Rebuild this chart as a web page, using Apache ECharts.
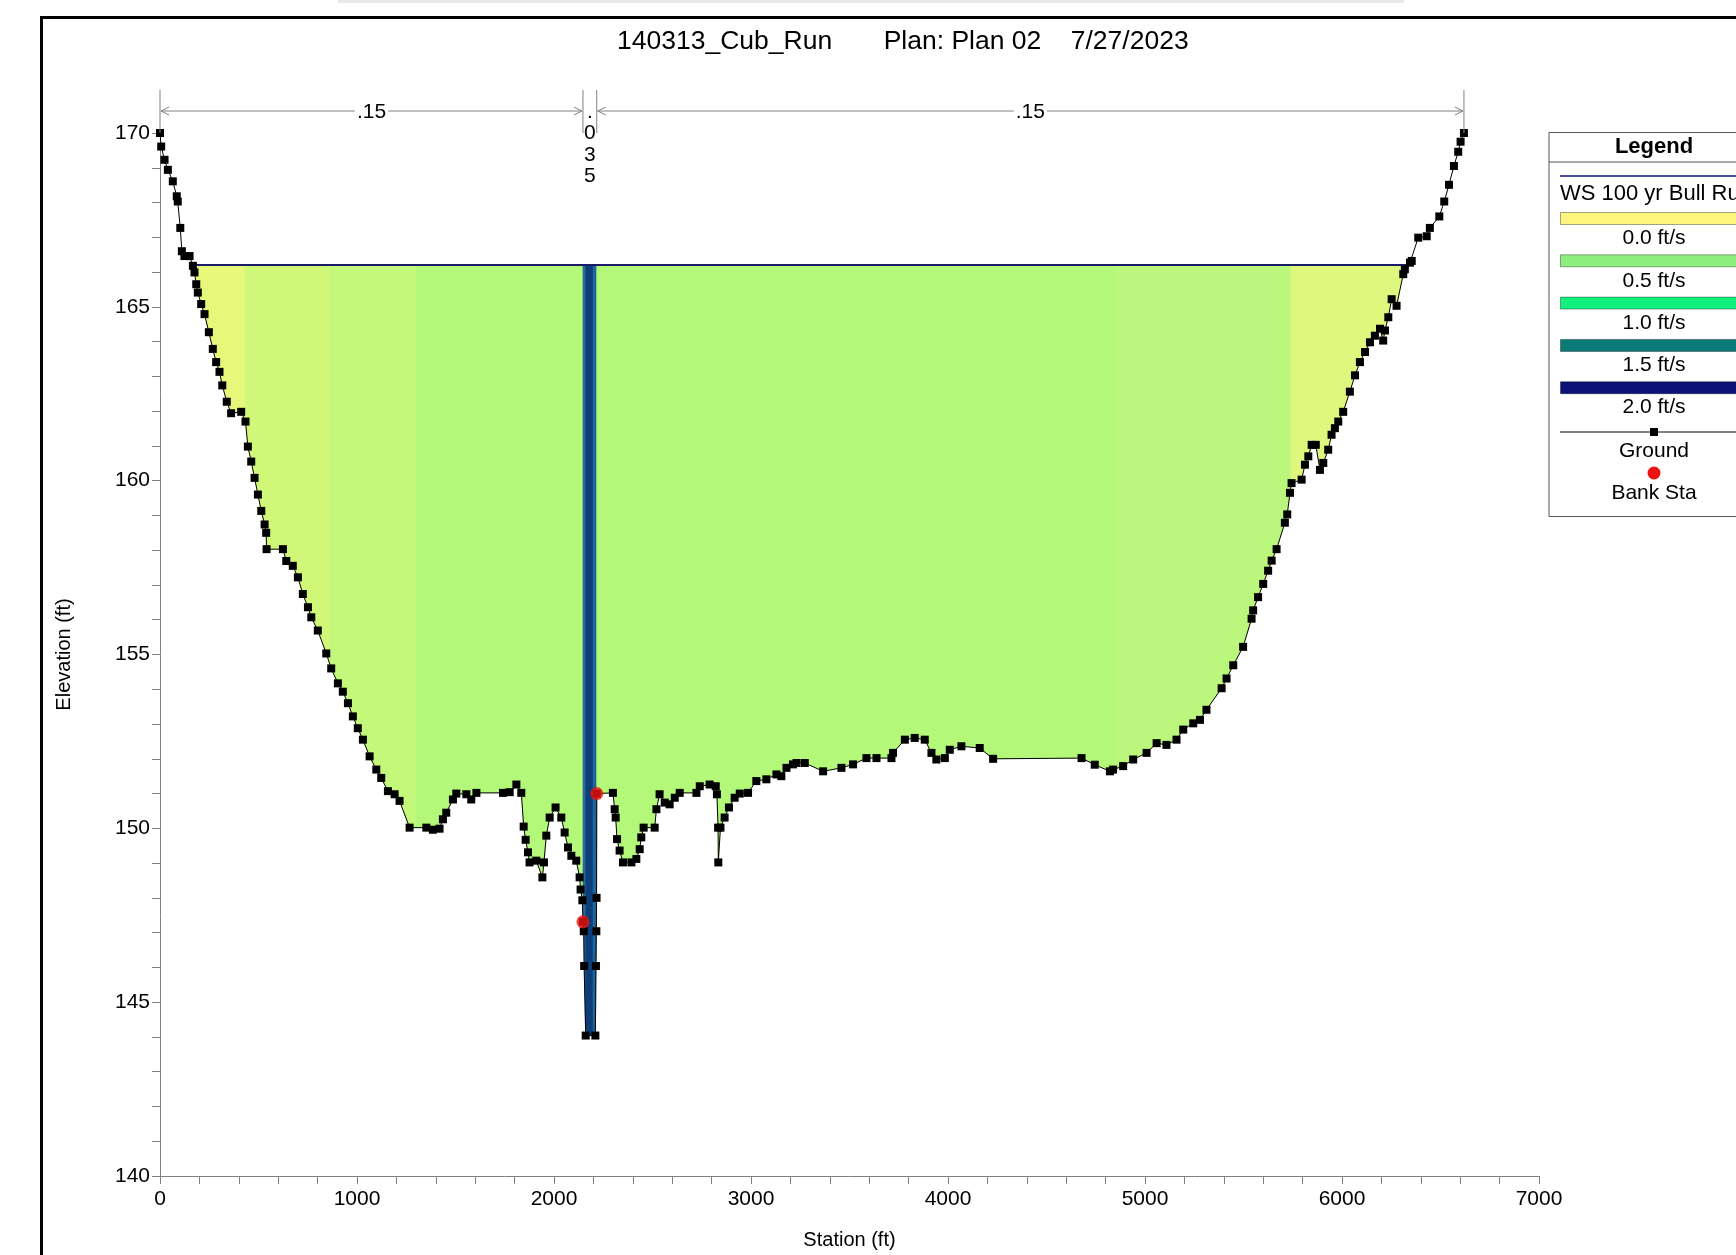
<!DOCTYPE html>
<html><head><meta charset="utf-8">
<script src="https://cdn.jsdelivr.net/npm/echarts@6/dist/echarts.min.js"></script>
<style>html,body{margin:0;padding:0;background:#fff;overflow:hidden}#chart{width:1736px;height:1255px}</style>
</head><body><div id="chart"></div>
<script>
// ---------- DATA ----------
const groundStation = [0,6,23,40,65,85,90,103,111,124,150,167,175,184,192,209,226,248,268,285,302,316,339,361,412,434,446,463,480,497,514,531,539,541,624,641,674,700,725,751,768,801,844,869,903,928,954,979,1004,1030,1064,1098,1123,1157,1191,1216,1267,1352,1385,1419,1436,1453,1487,1504,1555,1580,1606,1741,1775,1809,1834,1846,1856,1868,1876,1910,1941,1949,1961,1978,2008,2037,2054,2071,2088,2113,2130,2135,2144,2147,2151,2153,2161,2210,2213,2215,2216,2217,2299,2308,2313,2320,2333,2350,2393,2418,2435,2443,2455,2511,2520,2536,2562,2587,2613,2638,2723,2740,2790,2821,2827,2833,2834,2845,2866,2888,2917,2943,2985,3027,3078,3129,3154,3180,3213,3231,3273,3366,3459,3518,3586,3637,3713,3721,3781,3831,3882,3916,3941,3984,4009,4068,4161,4229,4678,4745,4822,4838,4889,4940,5008,5059,5109,5160,5194,5245,5279,5312,5389,5414,5448,5498,5541,5549,5574,5600,5625,5643,5668,5710,5722,5736,5744,5795,5812,5829,5846,5867,5888,5905,5930,5947,5964,5981,6006,6040,6066,6091,6117,6142,6167,6193,6209,6218,6235,6252,6277,6311,6319,6345,6354,6387,6430,6446,6494,6519,6543,6568,6590,6602,6619];
const groundElev = [170.0,169.61,169.23,168.94,168.61,168.18,168.03,167.27,166.6,166.46,166.46,166.18,165.99,165.65,165.41,165.08,164.79,164.27,163.79,163.41,163.13,162.74,162.27,161.94,161.98,161.7,160.98,160.55,160.08,159.6,159.13,158.74,158.5,158.03,158.03,157.69,157.55,157.22,156.74,156.36,156.07,155.69,155.03,154.6,154.17,153.93,153.6,153.22,152.88,152.55,152.07,151.69,151.45,151.07,150.98,150.79,150.02,150.02,149.96,149.99,150.26,150.45,150.83,151.0,150.98,150.83,151.02,151.02,151.04,151.26,151.02,150.05,149.67,149.31,149.02,149.07,148.59,149.02,149.79,150.31,150.6,150.31,149.88,149.45,149.21,149.07,148.59,148.24,147.93,147.31,147.04,146.04,144.04,144.04,146.04,147.04,148.0,151.0,151.02,150.55,150.31,149.69,149.36,149.02,149.02,149.12,149.4,149.74,150.02,150.02,150.55,150.98,150.74,150.69,150.88,151.02,151.02,151.21,151.26,151.21,150.98,150.02,149.02,150.02,150.31,150.6,150.88,151.0,151.02,151.36,151.41,151.55,151.5,151.74,151.84,151.88,151.88,151.64,151.74,151.84,152.02,152.02,152.02,152.17,152.55,152.6,152.55,152.17,151.98,152.02,152.26,152.36,152.31,152.0,152.02,151.83,151.64,151.69,151.79,151.98,152.17,152.45,152.4,152.55,152.84,153.02,153.12,153.41,154.03,154.31,154.69,155.22,156.03,156.27,156.65,157.03,157.41,157.7,158.03,158.79,159.03,159.65,159.93,160.03,160.46,160.7,161.03,161.03,160.31,160.51,160.89,161.32,161.51,161.7,161.98,162.56,163.03,163.41,163.7,163.98,164.17,164.37,164.03,164.32,164.7,165.22,165.03,165.94,166.08,166.27,166.32,166.99,167.03,167.27,167.6,168.03,168.51,169.05,169.46,169.75,170.0];
const bankStation = [2147, 2217];
const bankElev = [147.31, 151.0];
const wsElevation = 166.2;
const wsStation = [167, 6328];
const velocityBandEdges = [167, 429, 861, 1297, 2147, 2160, 2198, 2217, 4857, 5741, 6328];
const velocityBandColors = ['#e6f77a','#d1f778','#c3f87a','#b3f879','#2a6a98','#0c3f7a','#20649a','#b4f87a','#bbf77c','#dff77c'];
const nBoundaries = [0, 2147, 2217, 6619];
const nValues = ['.15', '.035', '.15'];
const titleText = '140313_Cub_Run       Plan: Plan 02    7/27/2023';
const legendTitle = 'Legend';
const legendWsLabel = 'WS 100 yr Bull Run';
const legendVelocityLabels = ['0.0 ft/s','0.5 ft/s','1.0 ft/s','1.5 ft/s','2.0 ft/s'];
const legendVelocityColors = ['#fdf57d','#8cef7d','#14f07e','#0b7b78','#0a1277'];
const legendGroundLabel = 'Ground';
const legendBankLabel = 'Bank Sta';

// ---------- helpers ----------
const FONT = '"Liberation Sans", Arial, sans-serif';
function groundAt(x) {
  for (let i = 1; i < groundStation.length; i++) {
    if (x <= groundStation[i]) {
      const x0 = groundStation[i-1], x1 = groundStation[i];
      if (x1 === x0) return groundElev[i];
      return groundElev[i-1] + (x - x0) / (x1 - x0) * (groundElev[i] - groundElev[i-1]);
    }
  }
  return groundElev[groundElev.length-1];
}
const ws = wsElevation;
function waterItem(params, api) {
  const x0 = api.value(0), x1 = api.value(1);
  const pts = [[x0, groundAt(x0)]];
  for (let i = 0; i < groundStation.length; i++) {
    const s = groundStation[i];
    if (s > x0 && s < x1) pts.push([s, groundElev[i]]);
  }
  pts.push([x1, groundAt(x1)]);
  const bottom = [];
  for (let i = 0; i < pts.length; i++) {
    if (i > 0) {
      const a = pts[i-1], b = pts[i];
      if ((a[1]-ws)*(b[1]-ws) < 0) {
        const t = (ws - a[1]) / (b[1] - a[1]);
        bottom.push([a[0] + t*(b[0]-a[0]), ws]);
      }
    }
    bottom.push([pts[i][0], Math.min(pts[i][1], ws)]);
  }
  const poly = [[x0, ws], [x1, ws]].concat(bottom.reverse()).map(p => api.coord(p));
  const c = velocityBandColors[params.dataIndex];
  return { type: 'polygon', shape: { points: poly }, style: { fill: c, stroke: c, lineWidth: 0.6 } };
}
function nItem(params, api) {
  const i = params.dataIndex;
  const top = params.coordSys.y;
  const xa = api.coord([api.value(0), 170])[0];
  const xb = api.coord([api.value(1), 170])[0];
  const yA = top - 22;
  const ls = { stroke: '#808080', lineWidth: 1 };
  const ch = [];
  ch.push({ type: 'line', shape: { x1: xa, y1: top - 43, x2: xa, y2: top }, style: ls });
  if (i === nValues.length - 1) ch.push({ type: 'line', shape: { x1: xb, y1: top - 43, x2: xb, y2: top }, style: ls });
  const mid = (xa + xb) / 2;
  if (xb - xa > 30) {
    ch.push({ type: 'line', shape: { x1: xa + 1, y1: yA, x2: xb - 1, y2: yA }, style: ls });
    ch.push({ type: 'polyline', shape: { points: [[xa+9, yA-4], [xa+1, yA], [xa+9, yA+4]] }, style: { stroke: '#808080', lineWidth: 1, fill: null } });
    ch.push({ type: 'polyline', shape: { points: [[xb-9, yA-4], [xb-1, yA], [xb-9, yA+4]] }, style: { stroke: '#808080', lineWidth: 1, fill: null } });
    ch.push({ type: 'text', style: { text: nValues[i], x: mid, y: yA + 1, align: 'center', verticalAlign: 'middle', font: '21px ' + FONT, fill: '#000', backgroundColor: '#fff', padding: [0, 2] } });
  } else {
    ch.push({ type: 'text', style: { text: nValues[i].split('').join('\n'), x: mid, y: yA - 10, align: 'center', verticalAlign: 'top', font: '21px ' + FONT, lineHeight: 21.5, fill: '#000' } });
  }
  return { type: 'group', children: ch };
}

// ---------- legend graphic ----------
const LX = 1549, LC = 1654;
const legendEls = [
  { type: 'rect', shape: { x: LX, y: 132.5, width: 230, height: 384 }, style: { fill: '#fff', stroke: '#555', lineWidth: 1 }, z: 10 },
  { type: 'line', shape: { x1: LX, y1: 162, x2: 1780, y2: 162 }, style: { stroke: '#555', lineWidth: 1 }, z: 11 },
  { type: 'text', style: { text: legendTitle, x: LC, y: 147, align: 'center', verticalAlign: 'middle', font: 'bold 22px ' + FONT, fill: '#000' }, z: 11 },
  { type: 'line', shape: { x1: 1560, y1: 176, x2: 1780, y2: 176 }, style: { stroke: '#4a4c9a', lineWidth: 2 }, z: 11 },
  { type: 'text', style: { text: legendWsLabel, x: 1560, y: 194, align: 'left', verticalAlign: 'middle', font: '22px ' + FONT, fill: '#000' }, z: 11 }
];
legendVelocityLabels.forEach((lab, k) => {
  const yb = 212.5 + k * 42.3;
  legendEls.push({ type: 'rect', shape: { x: 1560.5, y: yb, width: 220, height: 12 }, style: { fill: legendVelocityColors[k], stroke: 'rgba(0,0,0,0.35)', lineWidth: 1 }, z: 11 });
  legendEls.push({ type: 'text', style: { text: lab, x: LC, y: yb + 26, align: 'center', verticalAlign: 'middle', font: '21px ' + FONT, fill: '#000' }, z: 11 });
});
legendEls.push({ type: 'line', shape: { x1: 1560, y1: 432, x2: 1780, y2: 432 }, style: { stroke: '#000', lineWidth: 1 }, z: 11 });
legendEls.push({ type: 'rect', shape: { x: LC - 4, y: 428, width: 8, height: 8 }, style: { fill: '#000' }, z: 12 });
legendEls.push({ type: 'text', style: { text: legendGroundLabel, x: LC, y: 451, align: 'center', verticalAlign: 'middle', font: '21px ' + FONT, fill: '#000' }, z: 11 });
legendEls.push({ type: 'circle', shape: { cx: LC, cy: 473, r: 6.5 }, style: { fill: '#ee1111' }, z: 11 });
legendEls.push({ type: 'text', style: { text: legendBankLabel, x: LC, y: 493, align: 'center', verticalAlign: 'middle', font: '21px ' + FONT, fill: '#000' }, z: 11 });

// ---------- chart ----------
const chart = echarts.init(document.getElementById('chart'), null, { renderer: 'canvas' });
const axisCommon = {
  axisLine: { show: true, lineStyle: { color: '#808080', width: 1 } },
  axisTick: { show: true, length: 8, lineStyle: { color: '#808080' } },
  minorTick: { show: true, splitNumber: 5, length: 8, lineStyle: { color: '#808080' } },
  splitLine: { show: false },
  minorSplitLine: { show: false },
  nameTextStyle: { color: '#000', fontSize: 20, fontFamily: FONT },
  axisLabel: { color: '#000', fontSize: 21, fontFamily: FONT, formatter: v => String(v) }
};
chart.setOption({
  animation: false,
  backgroundColor: '#fff',
  grid: { left: 160, top: 133, right: 197, bottom: 66, containLabel: false },
  xAxis: Object.assign({}, axisCommon, {
    type: 'value', min: 0, max: 7000, interval: 1000,
    name: 'Station (ft)', nameLocation: 'middle', nameGap: 54,
    axisLabel: Object.assign({}, axisCommon.axisLabel, { margin: 13 })
  }),
  yAxis: Object.assign({}, axisCommon, {
    type: 'value', min: 140, max: 170, interval: 5,
    name: 'Elevation (ft)', nameLocation: 'middle', nameGap: 86, nameRotate: 90,
    axisLabel: Object.assign({}, axisCommon.axisLabel, { margin: 10 })
  }),
  graphic: [
    { type: 'rect', shape: { x: 338, y: 0, width: 1066, height: 3 }, style: { fill: '#e9e9e9' } },
    { type: 'rect', shape: { x: 40, y: 16, width: 1696, height: 3 }, style: { fill: '#000' } },
    { type: 'rect', shape: { x: 40, y: 16, width: 3, height: 1239 }, style: { fill: '#000' } },
    { type: 'text', style: { text: titleText, x: 617, y: 42, align: 'left', verticalAlign: 'middle', font: '26.5px ' + FONT, fill: '#000' } }
  ].concat(legendEls),
  series: [
    {
      name: 'water', type: 'custom', z: 1, clip: true,
      renderItem: waterItem,
      data: velocityBandColors.map((c, i) => [velocityBandEdges[i], velocityBandEdges[i+1]]),
      encode: { x: [0, 1] }
    },
    {
      name: 'WS 100 yr Bull Run', type: 'line', z: 3, symbol: 'none',
      data: wsStation.map(s => [s, wsElevation]),
      lineStyle: { color: '#1a1d66', width: 2 }
    },
    {
      name: 'Ground', type: 'line', z: 4, symbol: 'rect', symbolSize: 8, showAllSymbol: true,
      data: groundStation.map((s, i) => [s, groundElev[i]]),
      lineStyle: { color: '#000', width: 1 }, itemStyle: { color: '#000' }
    },
    {
      name: 'Bank Sta', type: 'scatter', z: 5, symbol: 'circle', symbolSize: 13,
      data: bankStation.map((s, i) => [s, bankElev[i]]),
      itemStyle: { color: '#ee1111' }
    },
    {
      name: 'n values', type: 'custom', z: 6, clip: false,
      renderItem: nItem,
      data: nValues.map((v, i) => [nBoundaries[i], nBoundaries[i+1]]),
      encode: { x: [0, 1] }
    }
  ]
});
</script>
</body></html>
